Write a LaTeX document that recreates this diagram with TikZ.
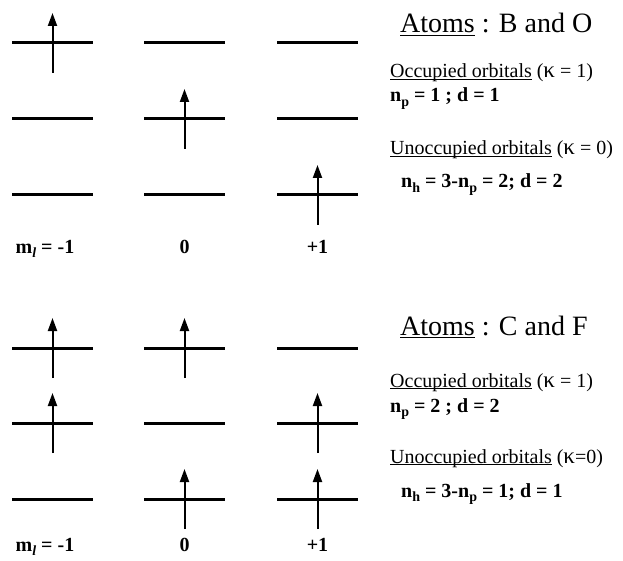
\documentclass[tikz,border=0pt]{standalone}
\usepackage{fontspec}
\setmainfont{Liberation Serif}
\usetikzlibrary{arrows.meta}
\tikzset{
  level/.style={line width=3pt},
  spin/.style={line width=2pt,-{Triangle[length=13pt,width=9pt]}},
  txt/.style={anchor=base west,inner sep=0pt,font=\fontsize{20}{24}\selectfont},
  btxt/.style={anchor=base west,inner sep=0pt,font=\fontsize{20}{24}\selectfont\bfseries},
  title/.style={anchor=base west,inner sep=0pt,font=\fontsize{28}{32}\selectfont},
  mlab/.style={anchor=base,inner sep=0pt,font=\fontsize{20}{24}\selectfont\bfseries}
}
\newcommand{\lev}[2]{\draw[level] (#1-40.5,#2) -- (#1+40.5,#2);}
\newcommand{\spn}[3]{\coordinate (#3t) at (#1,#2+30); \coordinate (#3h) at (#1,#2-30); \draw[spin] (#3t) -- (#3h);}
\newcommand{\uln}[2]{\setbox0\hbox{#2}\rlap{\rule[-#1]{\wd0}{1.3pt}}\box0\relax}
\newcommand{\sbs}[1]{\raisebox{-4.5pt}{\fontsize{14}{14}\selectfont #1}}
\newcommand{\kap}{{\fontsize{23}{23}\selectfont κ}}
\begin{document}
\begin{tikzpicture}[x=1pt,y=-1pt]
\useasboundingbox (0,0) rectangle (623,561);
\foreach \cx in {52.5,184.5,317.5}{
  \foreach \yy in {43,119,195,348,423,499}{\lev{\cx}{\yy}}
}
% top spins
\spn{52.5}{43}{a1}
\spn{184.5}{119}{a2}
\spn{317.5}{195}{a3}
% bottom spins
\spn{52.5}{348}{b1}
\spn{184.5}{348}{b2}
\spn{52.5}{423}{b3}
\spn{317.5}{423}{b4}
\spn{184.5}{499}{b5}
\spn{317.5}{499}{b6}
% m_l labels
\node[mlab] (m1) at (45,253) {m\sbs{\textit{l}} = -1};
\node[mlab] (m2) at (184.5,253) {0};
\node[mlab] (m3) at (317.5,253) {+1};
\node[mlab] (m4) at (45,551) {m\sbs{\textit{l}} = -1};
\node[mlab] (m5) at (184.5,551) {0};
\node[mlab] (m6) at (317.5,551) {+1};
% right texts top
\node[title] (t1) at (400,33) {\uln{3pt}{Atoms} : B and O};
\node[txt] (o1) at (390,78) {\uln{2pt}{Occupied orbitals} (\kap{} = 1)};
\node[btxt] (n1) at (390,102) {n\sbs{p} = 1 ; d = 1};
\node[txt] (u1) at (390,155) {\uln{2pt}{Unoccupied orbitals} (\kap{} = 0)};
\node[btxt] (h1) at (401,188) {n\sbs{h} = 3-n\sbs{p} = 2; d = 2};
% right texts bottom
\node[title] (t2) at (400,335) {\uln{3pt}{Atoms} : C and F};
\node[txt] (o2) at (390,387) {\uln{2pt}{Occupied orbitals} (\kap{} = 1)};
\node[btxt] (n2) at (390,412) {n\sbs{p} = 2 ; d = 2};
\node[txt] (u2) at (390,463) {\uln{2pt}{Unoccupied orbitals} (\kap{}=0)};
\node[btxt] (h2) at (401,497) {n\sbs{h} = 3-n\sbs{p} = 1; d = 1};
\end{tikzpicture}
\end{document}
